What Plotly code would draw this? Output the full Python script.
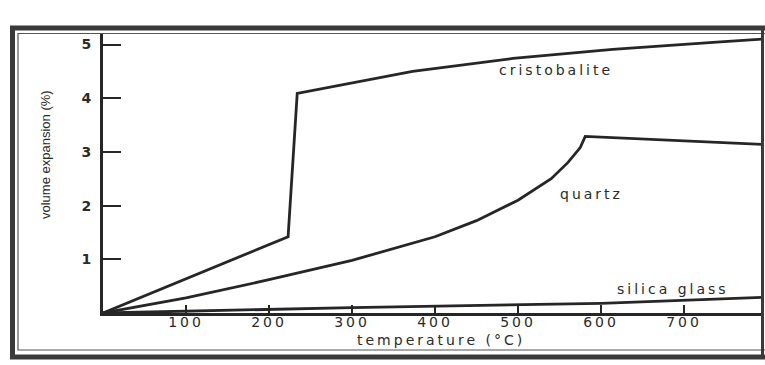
import plotly.graph_objects as go

# ---- data ----
cristobalite_t = [0, 223, 234, 261, 373, 494, 614, 735, 794]
cristobalite_v = [0, 1.42, 4.09, 4.17, 4.50, 4.74, 4.91, 5.04, 5.10]

quartz_t = [0, 100, 200, 300, 400, 450, 500, 540, 560, 575, 581, 794]
quartz_v = [0, 0.28, 0.62, 0.98, 1.42, 1.72, 2.10, 2.50, 2.80, 3.08, 3.29, 3.14]

silica_t = [0, 300, 600, 794]
silica_v = [0, 0.10, 0.18, 0.29]

x_ticks = [100, 200, 300, 400, 500, 600, 700]
y_ticks = [1, 2, 3, 4, 5]

labels = ["cristobalite", "quartz", "silica glass"]
label_t = [546, 588, 687]
label_v = [4.53, 2.22, 0.45]

# ---- layout geometry ----
W, H = 765, 365
L, R, T, B = 103, 3, 33, 52
PW, PH = W - L - R, H - T - B


def px(x):
    return (x - L) / PW


def py(y):
    return (H - B - y) / PH


INK = "#262626"
TXT = "#2a2a2a"

fig = go.Figure()
for t, v in [(cristobalite_t, cristobalite_v), (quartz_t, quartz_v), (silica_t, silica_v)]:
    fig.add_trace(go.Scatter(x=t, y=v, mode="lines",
                             line=dict(color=INK, width=2.8),
                             hoverinfo="skip", showlegend=False))

ann = []
for txt, t, v in zip(labels, label_t, label_v):
    ann.append(dict(x=t, y=v, xref="x", yref="y", text=txt, showarrow=False,
                    xanchor="center", yanchor="middle",
                    font=dict(family="DejaVu Sans", size=14, color=TXT)))
ann.append(dict(x=px(441), y=py(340), xref="paper", yref="paper",
                text="temperature (°C)", showarrow=False,
                xanchor="center", yanchor="middle",
                font=dict(family="DejaVu Sans", size=14, color=TXT)))
ann.append(dict(x=px(45), y=py(155), xref="paper", yref="paper",
                text="volume expansion (%)", showarrow=False, textangle=-90,
                xanchor="center", yanchor="middle",
                font=dict(family="Liberation Sans Narrow, Liberation Sans", size=13, color=TXT)))

shapes = [
    # outer thick frame
    dict(type="path", xref="paper", yref="paper",
         path=f"M {px(766)},{py(28)} L {px(12.5)},{py(28)} L {px(12.5)},{py(357)} L {px(766)},{py(357)}",
         line=dict(color="#3a3a3a", width=5)),
    # inner thin frame
    dict(type="path", xref="paper", yref="paper",
         path=f"M {px(766)},{py(33.5)} L {px(18)},{py(33.5)} L {px(18)},{py(350)} L {px(766)},{py(350)}",
         line=dict(color="#555555", width=1.2)),
    # right edge
    dict(type="line", xref="paper", yref="paper",
         x0=px(762.5), x1=px(762.5), y0=py(28), y1=py(357),
         line=dict(color="#3a3a3a", width=3)),
]

fig.update_layout(
    width=W, height=H,
    margin=dict(l=L, r=R, t=T, b=B),
    paper_bgcolor="white", plot_bgcolor="white",
    showlegend=False,
    annotations=ann,
    shapes=shapes,
    xaxis=dict(range=[0, PW / 0.83], tickvals=x_ticks, ticks="inside", ticklen=8,
               tickwidth=1.6, tickcolor=INK, showline=True, linewidth=2.8, linecolor=INK,
               showgrid=False, zeroline=False, ticklabelstandoff=-6,
               tickfont=dict(family="DejaVu Sans", size=14, color=TXT)),
    yaxis=dict(range=[0, PH / 53.7], tickvals=y_ticks, ticks="inside", ticklen=18,
               tickwidth=1.6, tickcolor=INK, showline=True, linewidth=2.8, linecolor=INK,
               showgrid=False, zeroline=False, ticklabelstandoff=6,
               tickfont=dict(family="DejaVu Sans", size=14, color=TXT, weight="bold")),
)

post = ("document.body.style.margin='0';document.body.style.overflow='hidden';"
        "document.querySelectorAll('.xtick text, .annotation-text').forEach(function(t){"
        "if(t.textContent.indexOf('volume')!==0){t.style.letterSpacing='3px';}});")

fig.write_html("out.html", post_script=post, config={"displayModeBar": False})
